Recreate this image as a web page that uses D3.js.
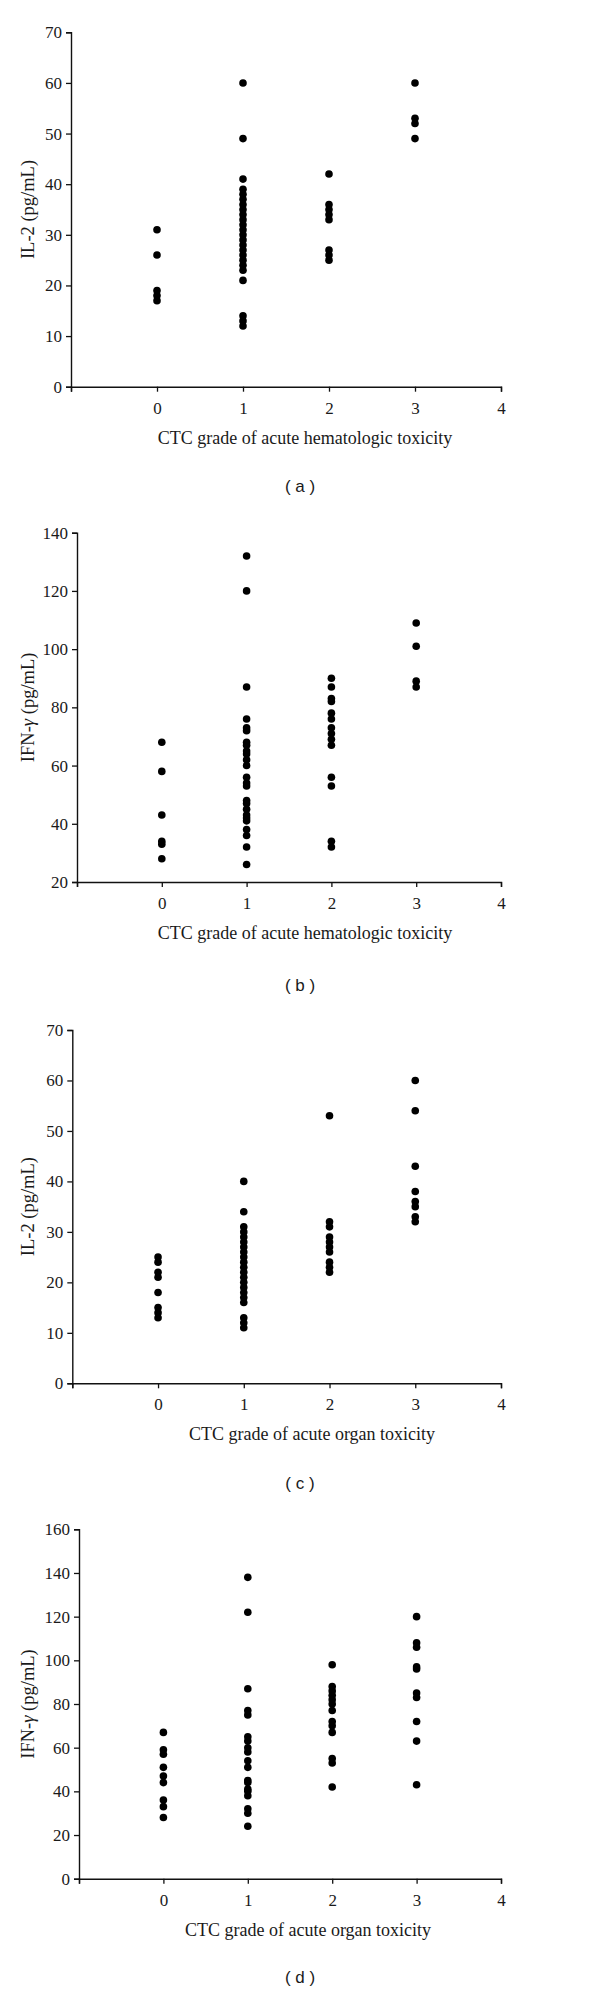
<!DOCTYPE html>
<html>
<head>
<meta charset="utf-8">
<script src="https://cdn.jsdelivr.net/npm/d3@7"></script>
<style>
  body { margin: 0; background: #fff; }
  svg text { fill: #1a1a1a; }
</style>
</head>
<body>
<div id="chart"></div>
<script>
// values, one list per CTC grade (0,1,2,3)
var grades = [0, 1, 2, 3];
var xTicks = [-1, 0, 1, 2, 3, 4];

// (a) IL-2 vs hematologic toxicity
var il2Hema = [
  [31, 26, 19, 18, 17],
  [60, 49, 41, 39, 38, 37, 36, 35, 34, 33, 32, 31, 30, 29, 28, 27, 26, 25, 24, 23, 21, 14, 13, 12],
  [42, 36, 35, 34, 33, 27, 26, 25],
  [60, 53, 52, 49]
];
// (b) IFN-gamma vs hematologic toxicity
var ifnHema = [
  [68, 58, 43, 34, 33, 28],
  [132, 120, 87, 76, 73, 72, 68, 67, 65, 64, 62, 60, 56, 54, 53, 48, 47, 45, 43, 42, 41, 38, 36, 32, 26],
  [90, 87, 83, 82, 78, 76, 73, 71, 69, 67, 56, 53, 34, 32],
  [109, 101, 89, 87]
];
// (c) IL-2 vs organ toxicity
var il2Organ = [
  [25, 24, 22, 21, 18, 15, 14, 13],
  [40, 34, 31, 30, 29, 28, 27, 26, 25, 24, 23, 22, 21, 20, 19, 18, 17, 16, 13, 12, 11],
  [53, 32, 31, 29, 28, 27, 26, 24, 23, 22],
  [60, 54, 43, 38, 36, 35, 33, 32]
];
// (d) IFN-gamma vs organ toxicity
var ifnOrgan = [
  [67, 59, 57, 51, 47, 44, 36, 33, 28],
  [138, 122, 87, 77, 75, 65, 63, 60, 58, 54, 51, 45, 44, 41, 40, 38, 32, 30, 24],
  [98, 88, 86, 84, 82, 80, 77, 72, 70, 67, 55, 53, 42],
  [120, 108, 106, 97, 96, 85, 83, 72, 63, 43]
];

var il2Ticks = [0, 10, 20, 30, 40, 50, 60, 70];
var ifnTicksB = [20, 40, 60, 80, 100, 120, 140];
var ifnTicksD = [0, 20, 40, 60, 80, 100, 120, 140, 160];

var svg = d3.select("#chart").append("svg")
  .attr("width", 600)
  .attr("height", 1993);

var serif = "'Liberation Serif', 'Times New Roman', serif";

function drawPanel(p) {
  var x = d3.scaleLinear().domain([-1, 4]).range([p.left, 501]);
  var y = d3.scaleLinear().domain([p.yTicks[0], p.yTicks[p.yTicks.length - 1]]).range([p.bottom, p.top]);

  var g = svg.append("g");

  var xAxis = g.append("g")
    .attr("transform", "translate(0," + p.bottom + ")")
    .call(d3.axisBottom(x).tickValues(xTicks).tickSize(5).tickPadding(10)
      .tickFormat(function (d) { return d < 0 ? "" : d; }));
  var yAxis = g.append("g")
    .attr("transform", "translate(" + p.left + ",0)")
    .call(d3.axisLeft(y).tickValues(p.yTicks).tickSize(5).tickPadding(4));

  [xAxis, yAxis].forEach(function (a) {
    a.select(".domain").attr("stroke", "#111").attr("stroke-width", 1.4);
    a.selectAll(".tick line").attr("stroke", "#111").attr("stroke-width", 1.3);
    a.selectAll("text").attr("font-family", serif).attr("font-size", 17).attr("fill", "#1a1a1a");
  });

  // dots
  p.data.forEach(function (vals, i) {
    g.selectAll(null)
      .data(vals)
      .enter()
      .append("circle")
      .attr("cx", x(grades[i]))
      .attr("cy", function (d) { return y(d); })
      .attr("r", 3.8)
      .attr("fill", "#000");
  });

  g.append("text")
    .attr("x", p.labelX)
    .attr("y", p.bottom + 57)
    .attr("text-anchor", "middle")
    .attr("font-family", serif)
    .attr("font-size", 18)
    .text(p.xLabel);

  var yl = g.append("text")
    .attr("transform", "translate(34," + ((p.top + p.bottom) / 2) + ") rotate(-90)")
    .attr("text-anchor", "middle")
    .attr("font-family", serif)
    .attr("font-size", 18.5);
  yl.append("tspan").text(p.yName);
  if (p.gamma) {
    yl.append("tspan").attr("font-style", "italic").text("γ");
  }
  yl.append("tspan").text(" (pg/mL)");

  g.append("text")
    .attr("x", 300)
    .attr("y", p.capY)
    .attr("text-anchor", "middle")
    .attr("font-family", "'Liberation Sans', Arial, sans-serif")
    .attr("font-size", 17)
    .attr("xml:space", "preserve")
    .text("( " + p.cap + " )");
}

drawPanel({ data: il2Hema, yTicks: il2Ticks, left: 71, top: 32.3, bottom: 386.7, labelX: 305,
  xLabel: "CTC grade of acute hematologic toxicity", yName: "IL-2", gamma: false, cap: "a", capY: 492 });
drawPanel({ data: ifnHema, yTicks: ifnTicksB, left: 77, top: 532.7, bottom: 882, labelX: 305,
  xLabel: "CTC grade of acute hematologic toxicity", yName: "IFN-", gamma: true, cap: "b", capY: 991 });
drawPanel({ data: il2Organ, yTicks: il2Ticks, left: 72.3, top: 1030, bottom: 1383.3, labelX: 312,
  xLabel: "CTC grade of acute organ toxicity", yName: "IL-2", gamma: false, cap: "c", capY: 1489 });
drawPanel({ data: ifnOrgan, yTicks: ifnTicksD, left: 79, top: 1529.3, bottom: 1878.7, labelX: 308,
  xLabel: "CTC grade of acute organ toxicity", yName: "IFN-", gamma: true, cap: "d", capY: 1983 });
</script>
</body>
</html>
